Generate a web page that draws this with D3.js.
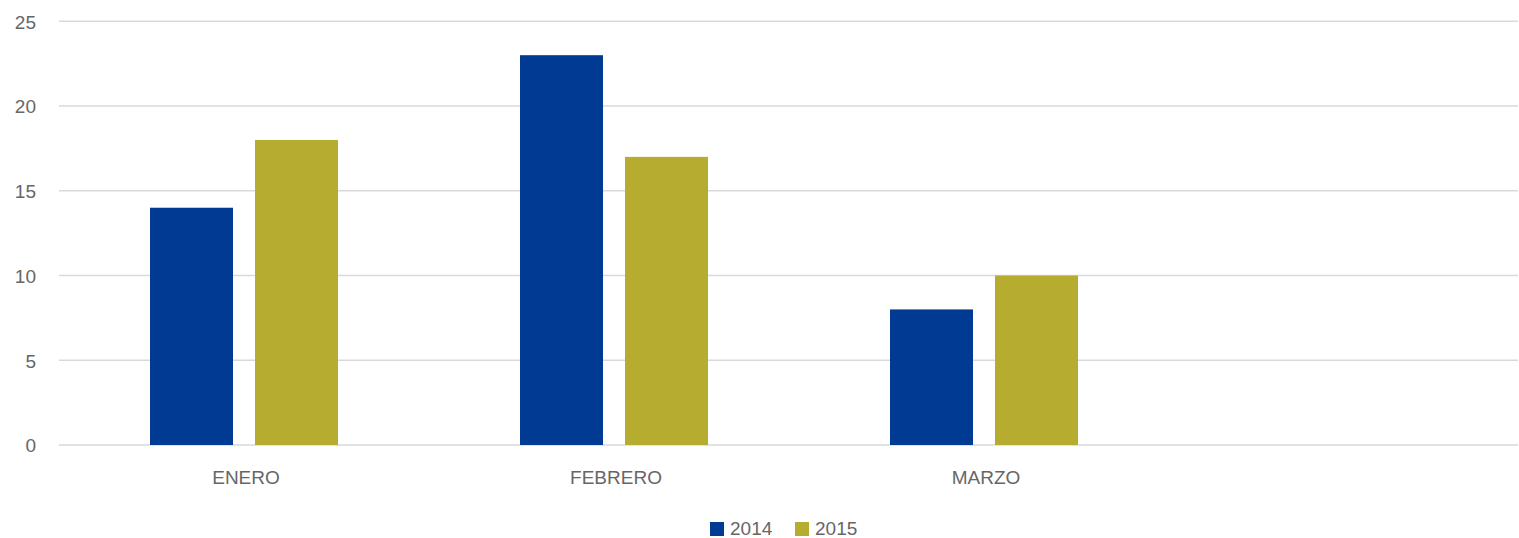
<!DOCTYPE html>
<html>
<head>
<meta charset="utf-8">
<script src="https://cdn.jsdelivr.net/npm/d3@7"></script>
<style>
  html, body { margin: 0; padding: 0; background: #fff; }
  svg { display: block; }
  text { font-family: "Liberation Sans", Arial, sans-serif; fill: #666666; }
</style>
</head>
<body>
<svg id="chart" width="1519" height="538"></svg>
<script>
const categories = ["ENERO", "FEBRERO", "MARZO"];
const slots = ["ENERO", "FEBRERO", "MARZO", ""]; // chart reserves an empty 4th slot
const seriesNames = ["2014", "2015"];
const values2014 = [14, 23, 8];
const values2015 = [18, 17, 10];
const yTicks = [0, 5, 10, 15, 20, 25];
const colors = ["#003A92", "#B6AC2F"];

(function () {
const svg = d3.select("#chart");
const plotLeft = 59, plotRight = 1539, plotTop = 21.3, plotBottom = 445;
const textColor = "#666666";

const x = d3.scaleBand().domain(slots).range([plotLeft, plotRight]).paddingInner(0).paddingOuter(0);
const y = d3.scaleLinear().domain([0, 25]).range([plotBottom, plotTop]);
const inner = d3.scaleBand().domain(seriesNames)
  .range([91, x.bandwidth() - 91]).paddingInner(22 / 105);

// gridlines
svg.append("g").selectAll("line").data(yTicks).join("line")
  .attr("x1", plotLeft).attr("x2", 1518)
  .attr("y1", d => y(d)).attr("y2", d => y(d))
  .attr("stroke", "#D9D9D9").attr("stroke-width", 1.5);

// y labels
const yAxis = d3.axisLeft(y).tickValues(yTicks).tickSize(0).tickPadding(0);
const gy = svg.append("g").attr("transform", "translate(36,0)").call(yAxis);
gy.select(".domain").remove();
gy.selectAll("text").attr("font-size", 19).attr("fill", textColor)
  .attr("font-family", '"Liberation Sans", Arial, sans-serif')
  .attr("dy", "0.36em");

// bars
const seriesData = [values2014, values2015];
seriesData.forEach((vals, si) => {
  svg.append("g").selectAll("rect").data(categories).join("rect")
    .attr("x", (c) => x(c) + inner(seriesNames[si]))
    .attr("width", inner.bandwidth())
    .attr("y", (c, i) => y(vals[i]))
    .attr("height", (c, i) => y(0) - y(vals[i]))
    .attr("fill", colors[si]);
});

// x labels
const xAxis = d3.axisBottom(x).tickValues(categories).tickSize(0).tickPadding(0);
const gx = svg.append("g").attr("transform", "translate(2,0)").call(xAxis);
gx.select(".domain").remove();
gx.selectAll(".tick text").attr("font-size", 19).attr("fill", textColor)
  .attr("font-family", '"Liberation Sans", Arial, sans-serif')
  .attr("y", 484).attr("dy", 0);

// legend
const legend = svg.append("g");
const legendX = [710, 795];
seriesNames.forEach((s, i) => {
  legend.append("rect").attr("x", legendX[i]).attr("y", 522)
    .attr("width", 14).attr("height", 14).attr("fill", colors[i]);
  legend.append("text").attr("x", legendX[i] + 20).attr("y", 535)
    .attr("font-size", 19).attr("fill", textColor).text(s);
});
})();
</script>
</body>
</html>
